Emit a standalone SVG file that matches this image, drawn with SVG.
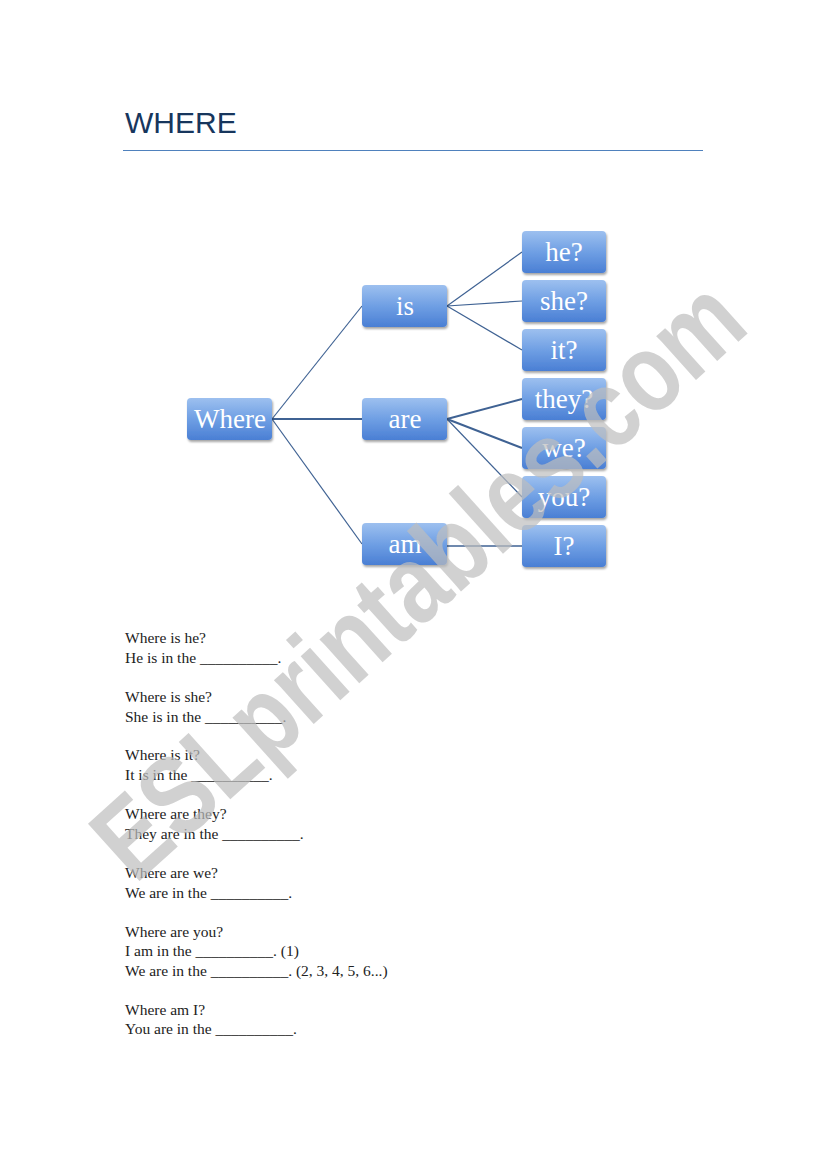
<svg xmlns="http://www.w3.org/2000/svg" width="826" height="1169" viewBox="0 0 826 1169">
<defs>
<linearGradient id="g" x1="0" y1="0" x2="0" y2="1">
<stop offset="0" stop-color="#9dc0ef"/><stop offset="0.5" stop-color="#6f9fe4"/><stop offset="1" stop-color="#4a7fd4"/>
</linearGradient>
<filter id="sh" x="-10%" y="-10%" width="130%" height="140%"><feDropShadow dx="1" dy="2" stdDeviation="1.2" flood-color="#000" flood-opacity="0.35"/></filter>
</defs>
<style>
.n rect{fill:url(#g);filter:url(#sh)}
.n text{font-family:"Liberation Serif",serif;font-size:27px;fill:#fff;text-anchor:middle}
.c line{stroke:#3f6293;stroke-width:1.2}
.t{font-family:"Liberation Serif",serif;font-size:15.5px;fill:#222}
</style>
<rect width="826" height="1169" fill="#fff"/>
<text x="125" y="133" font-family="Liberation Sans,sans-serif" font-size="30" fill="#17365d">WHERE</text>
<line x1="123" y1="150.5" x2="703" y2="150.5" stroke="#4f81bd" stroke-width="1"/>
<g class="c" id="connectors">
<line x1="272" y1="419" x2="362" y2="306"/>
<line x1="272" y1="419" x2="362" y2="419" style="stroke-width:2"/>
<line x1="272" y1="419" x2="362" y2="544"/>
<line x1="447" y1="306" x2="522" y2="252"/>
<line x1="447" y1="306" x2="522" y2="301"/>
<line x1="447" y1="306" x2="522" y2="350"/>
<line x1="447" y1="419" x2="522" y2="399" style="stroke-width:2"/>
<line x1="447" y1="419" x2="522" y2="448" style="stroke-width:2"/>
<line x1="447" y1="419" x2="522" y2="497"/>
<line x1="447" y1="546" x2="522" y2="546" style="stroke-width:1.6"/>
</g>
<g class="n" id="n-where"><rect x="187" y="398" width="85" height="42" rx="4"/><text x="230" y="428">Where</text></g>
<g class="n" id="n-is"><rect x="362" y="285" width="85" height="42" rx="4"/><text x="405" y="315">is</text></g>
<g class="n" id="n-are"><rect x="362" y="398" width="85" height="42" rx="4"/><text x="405" y="428">are</text></g>
<g class="n" id="n-am"><rect x="362" y="523" width="85" height="42" rx="4"/><text x="405" y="553">am</text></g>
<g class="n" id="n-he"><rect x="522" y="231" width="84" height="42" rx="4"/><text x="564" y="261">he?</text></g>
<g class="n" id="n-she"><rect x="522" y="280" width="84" height="42" rx="4"/><text x="564" y="310">she?</text></g>
<g class="n" id="n-it"><rect x="522" y="329" width="84" height="42" rx="4"/><text x="564" y="359">it?</text></g>
<g class="n" id="n-they"><rect x="522" y="378" width="84" height="42" rx="4"/><text x="564" y="408">they?</text></g>
<g class="n" id="n-we"><rect x="522" y="427" width="84" height="42" rx="4"/><text x="564" y="457">we?</text></g>
<g class="n" id="n-you"><rect x="522" y="476" width="84" height="42" rx="4"/><text x="564" y="506">you?</text></g>
<g class="n" id="n-i"><rect x="522" y="525" width="84" height="42" rx="4"/><text x="564" y="555">I?</text></g>
<g class="t">
<text x="125" y="643">Where is he?</text>
<text x="125" y="663">He is in the __________.</text>
<text x="125" y="702">Where is she?</text>
<text x="125" y="722">She is in the __________.</text>
<text x="125" y="760">Where is it?</text>
<text x="125" y="780">It is in the __________.</text>
<text x="125" y="819">Where are they?</text>
<text x="125" y="839">They are in the __________.</text>
<text x="125" y="878">Where are we?</text>
<text x="125" y="898">We are in the __________.</text>
<text x="125" y="937">Where are you?</text>
<text x="125" y="956">I am in the __________.  (1)</text>
<text x="125" y="976">We are in the __________. (2, 3, 4, 5, 6...)</text>
<text x="125" y="1015">Where am I?</text>
<text x="125" y="1034">You are in the __________.</text>
</g>
<text transform="translate(135,885) rotate(-42)" font-family="Liberation Sans,sans-serif" font-weight="bold" font-size="112" fill="#bdbdbd" fill-opacity="0.7" textLength="830" lengthAdjust="spacingAndGlyphs">ESLprintables.com</text>
</svg>
